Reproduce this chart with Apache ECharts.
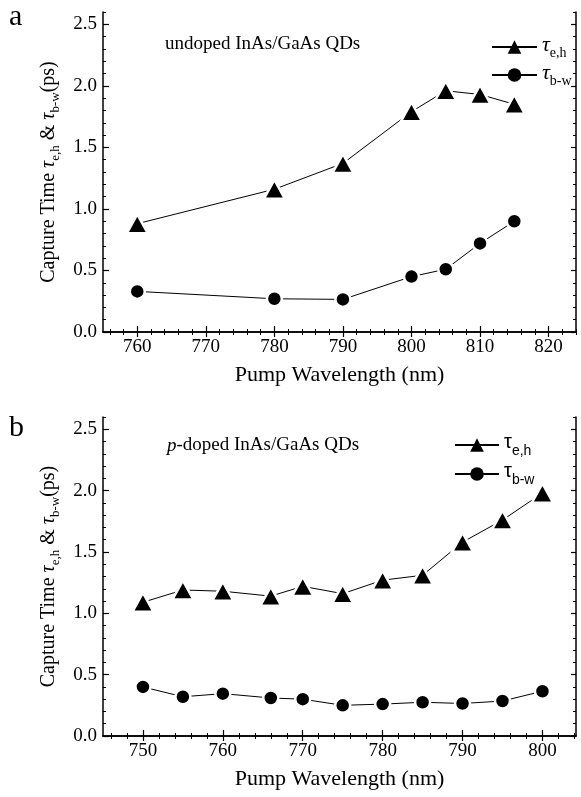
<!DOCTYPE html>
<html><head><meta charset="utf-8">
<script src="https://cdn.jsdelivr.net/npm/echarts@6/dist/echarts.min.js"></script>
<style>html,body{margin:0;padding:0;background:#fff}#c{width:581px;height:797px}</style>
</head><body><div id="c"></div>
<script>
// Panel a: undoped
const wlA = [760, 780, 790, 800, 805, 810, 815];
const ehA = [0.88, 1.16, 1.37, 1.79, 1.96, 1.93, 1.85];
const bwA = [0.33, 0.27, 0.265, 0.45, 0.51, 0.72, 0.90];
// Panel b: p-doped
const wlB = [750, 755, 760, 766, 770, 775, 780, 785, 790, 795, 800];
const ehB = [1.09, 1.19, 1.18, 1.14, 1.22, 1.16, 1.27, 1.31, 1.58, 1.76, 1.98];
const bwB = [0.40, 0.32, 0.345, 0.31, 0.30, 0.25, 0.26, 0.275, 0.265, 0.285, 0.365];
// ticks
const xTicksA = [760, 770, 780, 790, 800, 810, 820];
const xTicksB = [750, 760, 770, 780, 790, 800];
const yTicks = [0, 0.5, 1.0, 1.5, 2.0, 2.5];
const xRangeA = [755, 824];
const xRangeB = [745, 804.2];
const yRange = [0, 2.6];

function steps(a, b, s) { const r = []; for (let v = a; v <= b + 1e-9; v += s) r.push(Math.round(v * 100) / 100); return r; }
const xMinorA = steps(756, 824, 2);
const xMinorB = steps(746, 804, 2);
const yMinor = steps(0, 2.6, 0.1);

const SERIF = '"Liberation Serif","Times New Roman",serif';
const SANS = '"Liberation Sans",Arial,sans-serif';
const black = '#000';

const yName = '{n|Capture Time }{t|τ}{s|e,h}{n| & }{t|τ}{s|b-w}{n|(ps)}';
const yRich = {
  n: {fontFamily: SERIF, fontSize: 20, color: black, verticalAlign: 'top'},
  t: {fontFamily: SERIF, fontSize: 20, fontStyle: 'italic', color: black, verticalAlign: 'top'},
  s: {fontFamily: SERIF, fontSize: 13, color: black, verticalAlign: 'bottom', padding: [11, 0, 0, 0]}
};

function xAxes(gi, range, majors, minors) {
  const base = {type: 'value', gridIndex: gi, min: range[0], max: range[1], splitLine: {show: false}};
  return [
    Object.assign({}, base, {
      position: 'bottom',
      axisLine: {show: true, lineStyle: {color: black, width: 1.5}},
      axisTick: {show: true, inside: true, length: 6, customValues: majors, lineStyle: {color: black, width: 1.2}},
      axisLabel: {show: true, customValues: majors, margin: 6, fontFamily: SERIF, fontSize: 19, color: black},
      name: 'Pump Wavelength (nm)', nameLocation: 'middle', nameGap: 32,
      nameTextStyle: {fontFamily: SERIF, fontSize: 22, color: black}
    }),
    Object.assign({}, base, {
      position: 'bottom',
      axisLine: {show: false},
      axisTick: {show: true, inside: true, length: 3, customValues: minors, lineStyle: {color: black, width: 1}},
      axisLabel: {show: false}
    }),
    Object.assign({}, base, {
      position: 'top',
      axisLine: {show: true, lineStyle: {color: black, width: 1.5}},
      axisTick: {show: true, inside: true, length: 5, customValues: majors, lineStyle: {color: black, width: 1.2}},
      axisLabel: {show: false}
    }),
    Object.assign({}, base, {
      position: 'top',
      axisLine: {show: false},
      axisTick: {show: true, inside: true, length: 3, customValues: minors, lineStyle: {color: black, width: 1}},
      axisLabel: {show: false}
    })
  ];
}
function yAxes(gi) {
  const base = {type: 'value', gridIndex: gi, min: yRange[0], max: yRange[1], splitLine: {show: false}};
  return [
    Object.assign({}, base, {
      position: 'left',
      axisLine: {show: true, lineStyle: {color: black, width: 1.5}},
      axisTick: {show: true, inside: true, length: 6, customValues: yTicks, lineStyle: {color: black, width: 1.2}},
      axisLabel: {show: true, customValues: yTicks, margin: 6, fontFamily: SERIF, fontSize: 19, color: black,
        formatter: v => Number(v).toFixed(1)},
      name: yName, nameLocation: 'middle', nameGap: 40, nameRotate: 90,
      nameTextStyle: {rich: yRich}
    }),
    Object.assign({}, base, {
      position: 'left',
      axisLine: {show: false},
      axisTick: {show: true, inside: true, length: 3, customValues: yMinor, lineStyle: {color: black, width: 1}},
      axisLabel: {show: false}
    }),
    Object.assign({}, base, {
      position: 'right',
      axisLine: {show: true, lineStyle: {color: black, width: 1.5}},
      axisTick: {show: true, inside: true, length: 5, customValues: yTicks, lineStyle: {color: black, width: 1.2}},
      axisLabel: {show: false}
    }),
    Object.assign({}, base, {
      position: 'right',
      axisLine: {show: false},
      axisTick: {show: true, inside: true, length: 3, customValues: yMinor, lineStyle: {color: black, width: 1}},
      axisLabel: {show: false}
    })
  ];
}

function pairs(xs, ys) { return xs.map((x, i) => [x, ys[i]]); }
function lineSeries(name, gi, xs, ys, sym) {
  return {
    name: name, type: 'line', xAxisIndex: gi * 4, yAxisIndex: gi * 4,
    data: pairs(xs, ys),
    symbol: sym, symbolSize: sym === 'triangle' ? [21, 19] : 15,
    showSymbol: true, animation: false,
    lineStyle: {color: black, width: 1},
    itemStyle: {color: black, borderColor: '#fff', borderWidth: 2.5},
    emphasis: {disabled: true}, z: 3
  };
}

const legRichSerif = {
  t: {fontFamily: SERIF, fontSize: 22, fontStyle: 'italic', color: black, verticalAlign: 'top'},
  s: {fontFamily: SERIF, fontSize: 14, color: black, verticalAlign: 'bottom', padding: [12, 0, 0, 0]}
};
const legRichSans = {
  t: {fontFamily: SANS, fontSize: 20, color: black, verticalAlign: 'top'},
  s: {fontFamily: SANS, fontSize: 14, color: black, verticalAlign: 'bottom', padding: [12, 0, 0, 0]}
};
const legLabels = {aEH: '{t|τ}{s|e,h}', aBW: '{t|τ}{s|b-w}', bEH: '{t|τ}{s|e,h}', bBW: '{t|τ}{s|b-w}'};

const option = {
  backgroundColor: '#fff',
  animation: false,
  grid: [
    {left: 103, top: 12, width: 473, height: 320},
    {left: 103, top: 417, width: 473, height: 319}
  ],
  xAxis: xAxes(0, xRangeA, xTicksA, xMinorA).concat(xAxes(1, xRangeB, xTicksB, xMinorB)),
  yAxis: yAxes(0).concat(yAxes(1)),
  legend: [
    {data: ['aEH', 'aBW'], orient: 'vertical', left: 491, top: 34, padding: 0, itemWidth: 45, itemHeight: 17, itemGap: 2, itemSymbolGap: 5,
     selectedMode: false, formatter: n => legLabels[n], textStyle: {rich: legRichSerif}, itemStyle: {borderWidth: 0}},
    {data: ['bEH', 'bBW'], orient: 'vertical', left: 454, top: 432, padding: 0, itemWidth: 44, itemHeight: 17, itemGap: 3,
     selectedMode: false, formatter: n => legLabels[n], textStyle: {rich: legRichSans}, itemStyle: {borderWidth: 0}}
  ],
  series: [
    lineSeries('aEH', 0, wlA, ehA, 'triangle'),
    lineSeries('aBW', 0, wlA, bwA, 'circle'),
    lineSeries('bEH', 1, wlB, ehB, 'triangle'),
    lineSeries('bBW', 1, wlB, bwB, 'circle')
  ],
  graphic: [
    {type: 'text', left: 9, top: 2, style: {text: 'a', fontFamily: SERIF, fontSize: 30, fill: black}},
    {type: 'text', left: 9, top: 413, style: {text: 'b', fontFamily: SERIF, fontSize: 30, fill: black}},
    {type: 'text', left: 165, top: 35, style: {text: 'undoped InAs/GaAs QDs', fontFamily: SERIF, fontSize: 19, fill: black}},
    {type: 'text', left: 167, top: 436, style: {text: '{i|p}-doped InAs/GaAs QDs', fontFamily: SERIF, fontSize: 19, fill: black,
      rich: {i: {fontFamily: SERIF, fontSize: 19, fontStyle: 'italic', fill: black}}}}
  ]
};
const chart = echarts.init(document.getElementById('c'), null, {renderer: 'canvas'});
chart.setOption(option);
</script>
</body></html>
